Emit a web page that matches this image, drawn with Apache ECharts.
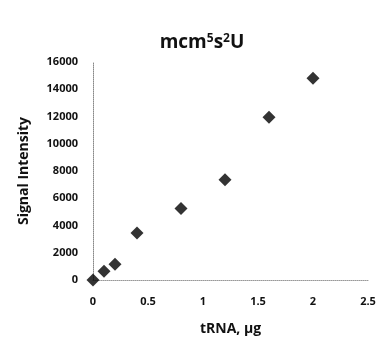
<!DOCTYPE html>
<html>
<head>
<meta charset="utf-8">
<script src="https://cdn.jsdelivr.net/npm/echarts@6/dist/echarts.min.js"></script>
<style>
html,body{margin:0;padding:0;background:#fff;}
#chart{width:379px;height:350px;}
</style>
</head>
<body>
<div id="chart"></div>
<script>
// tRNA amount (µg) and measured signal
const trnaUg = [0, 0.1, 0.2, 0.4, 0.8, 1.2, 1.6, 2.0];
const signal = [0, 650, 1150, 3450, 5250, 7350, 11950, 14800];

const font = '"Open Sans", "DejaVu Sans", sans-serif';
const chart = echarts.init(document.getElementById('chart'), null, {renderer: 'canvas'});

chart.setOption({
  animation: false,
  title: {
    text: '{b|mcm}{s|5}{b|s}{s|2}{b|U}',
    left: 197,
    top: 28,
    textAlign: 'center',
    textStyle: {
      rich: {
        b: {fontFamily: font, fontWeight: 'bold', fontSize: 19, color: '#111'},
        s: {fontFamily: font, fontWeight: 'bold', fontSize: 12, color: '#111', verticalAlign: 'top', padding: [0, 0, 8, 0]}
      }
    }
  },
  grid: {left: 93, right: 11, top: 62, bottom: 70},
  xAxis: {
    type: 'value', min: 0, max: 2.5, interval: 0.5,
    name: 'tRNA, µg', nameLocation: 'middle', nameGap: 42,
    nameTextStyle: {fontFamily: font, fontWeight: 'bold', fontSize: 14, color: '#111'},
    axisLine: {show: true, lineStyle: {color: '#999', type: 'dotted', width: 1}},
    axisTick: {show: false},
    splitLine: {show: false},
    axisLabel: {fontFamily: font, fontWeight: 'bold', fontSize: 11, color: '#111', margin: 16,
      formatter: v => String(v)}
  },
  yAxis: {
    type: 'value', min: 0, max: 16000, interval: 2000,
    name: 'Signal Intensity', nameLocation: 'middle', nameGap: 62,
    nameTextStyle: {fontFamily: font, fontWeight: 'bold', fontSize: 14, color: '#111'},
    axisLine: {show: true, lineStyle: {color: '#888', type: 'dotted', width: 1}},
    axisTick: {show: false},
    splitLine: {show: false},
    axisLabel: {fontFamily: font, fontWeight: 'bold', fontSize: 11, color: '#111', margin: 15,
      formatter: v => String(v)}
  },
  series: [{
    type: 'scatter',
    symbol: 'diamond',
    symbolSize: 13,
    itemStyle: {color: '#000'},
    data: trnaUg.map((x, i) => [x, signal[i]])
  }]
});
</script>
</body>
</html>
